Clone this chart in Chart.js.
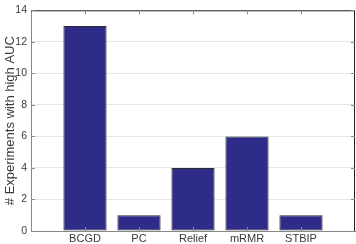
<!DOCTYPE html>
<html>
<head>
<meta charset="utf-8">
<script src="https://cdn.jsdelivr.net/npm/chart.js@4"></script>
<style>
  html, body { margin: 0; padding: 0; background: #fff; }
  #wrap { width: 356px; height: 244px; }
</style>
</head>
<body>
<div id="wrap"><canvas id="aucChart"></canvas></div>
<script>
// data
const methods = ["BCGD", "PC", "Relief", "mRMR", "STBIP"];
const highAuc = [13, 1, 4, 6, 1];
const yTicks = [0, 2, 4, 6, 8, 10, 12, 14];

const points = methods.map((m, i) => ({ x: i + 1, y: highAuc[i] }));

// inward tick marks + box, matlab style
const innerTicks = {
  id: "innerTicks",
  afterDraw(chart) {
    const { ctx, chartArea: a, scales } = chart;
    ctx.save();
    ctx.strokeStyle = "#222";
    ctx.lineWidth = 1;
    ctx.beginPath();
    ctx.moveTo(a.left, a.top + 0.5);
    ctx.lineTo(a.right - 0.5, a.top + 0.5);
    ctx.lineTo(a.right - 0.5, a.bottom);
    ctx.stroke();
    ctx.strokeStyle = "#888";
    ctx.beginPath();
    methods.forEach((m, i) => {
      const x = Math.round(scales.x.getPixelForValue(i + 1)) + 0.5;
      ctx.moveTo(x, a.top);
      ctx.lineTo(x, a.top + 4);
      ctx.moveTo(x, a.bottom);
      ctx.lineTo(x, a.bottom - 4);
    });
    yTicks.forEach(v => {
      const y = Math.round(scales.y.getPixelForValue(v)) + 0.5;
      ctx.moveTo(a.right, y);
      ctx.lineTo(a.right - 4, y);
      ctx.moveTo(a.left, y);
      ctx.lineTo(a.left + 4, y);
    });
    ctx.stroke();
    ctx.restore();
  }
};

new Chart(document.getElementById("aucChart"), {
  type: "bar",
  data: {
    datasets: [{
      data: points,
      backgroundColor: "#2f2b88",
      borderColor: "#2a2a2a",
      borderWidth: 1,
      borderSkipped: false,
      barPercentage: 0.8,
      categoryPercentage: 1
    }]
  },
  plugins: [innerTicks],
  options: {
    responsive: true,
    maintainAspectRatio: false,
    animation: false,
    layout: { padding: { top: 4, right: 1, left: 3, bottom: 0 } },
    plugins: { legend: { display: false }, tooltip: { enabled: false } },
    scales: {
      x: {
        type: "linear",
        offset: false,
        min: 0,
        max: 6,
        afterBuildTicks: s => { s.ticks = methods.map((m, i) => ({ value: i + 1 })); },
        afterFit: s => { s.height = 13; },
        ticks: {
          callback: v => methods[v - 1],
          color: "#3a3a3a",
          font: { family: "Liberation Sans", size: 11 },
          padding: 1,
          maxRotation: 0,
          autoSkip: false
        },
        grid: { display: false, drawTicks: false },
        border: { color: "#888", width: 1 }
      },
      y: {
        min: 0,
        max: 14,
        afterBuildTicks: s => { s.ticks = yTicks.map(v => ({ value: v })); },
        afterFit: s => { s.width = 28; },
        ticks: {
          color: "#3a3a3a",
          font: { family: "Liberation Sans", size: 10.5 },
          padding: 4
        },
        grid: { color: "#e6e6e6", drawTicks: false },
        border: { color: "#888", width: 1 },
        title: {
          display: true,
          text: "# Experiments with high AUC",
          color: "#3a3a3a",
          font: { family: "Liberation Sans", size: 13 },
          padding: 0
        }
      }
    }
  }
});
</script>
</body>
</html>
